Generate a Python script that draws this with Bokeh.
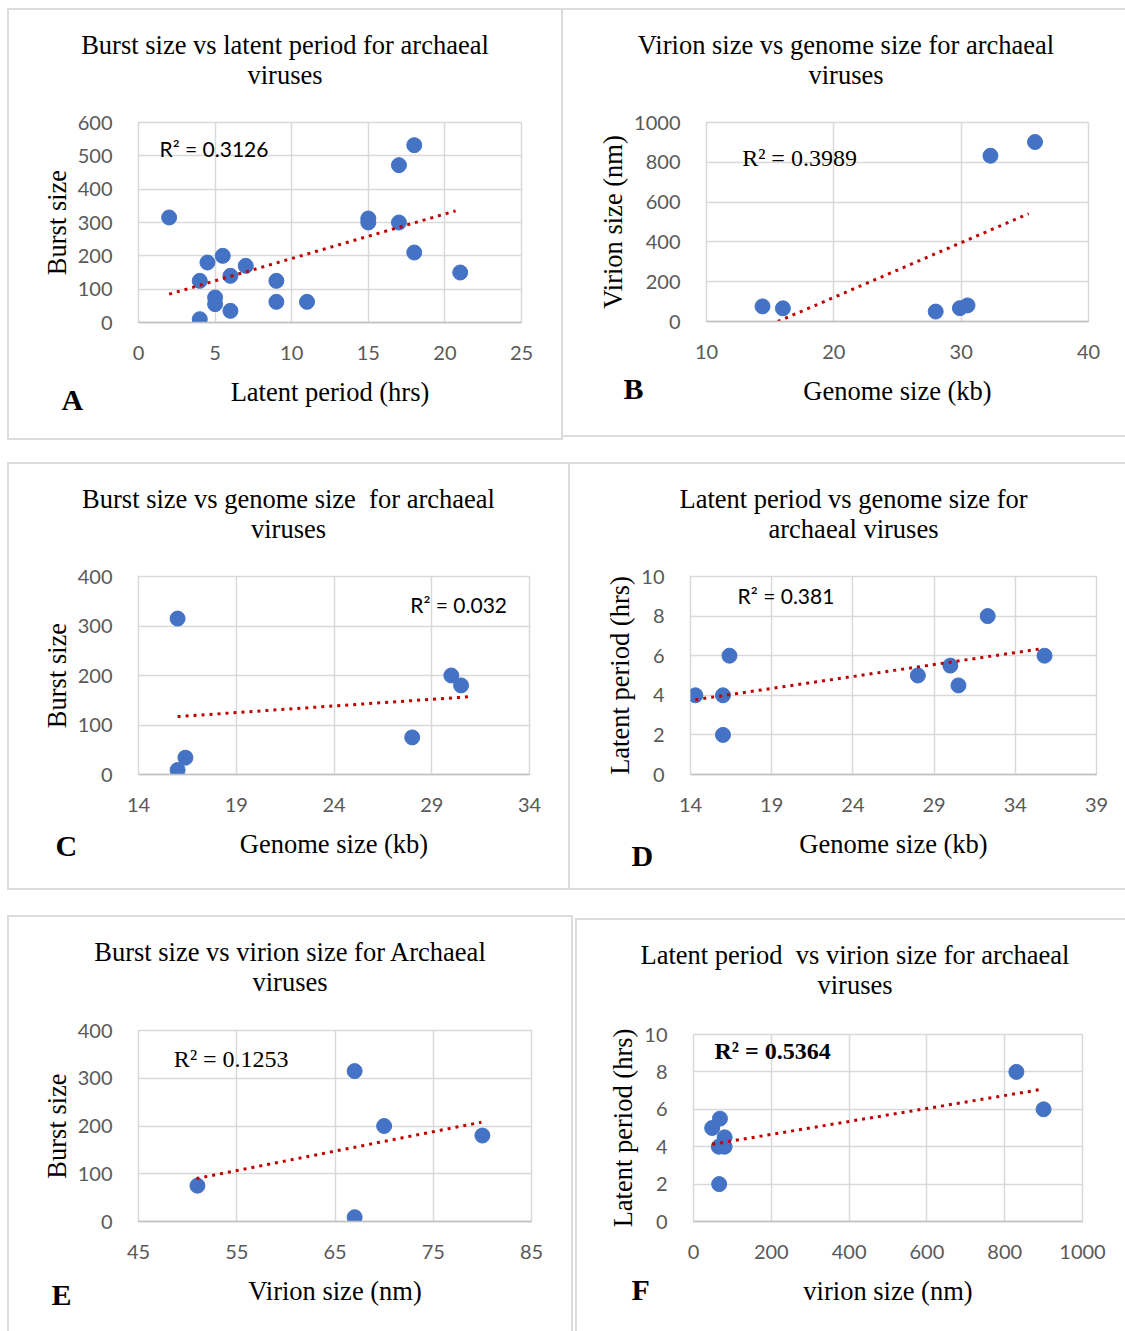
from bokeh.plotting import figure
from bokeh.models import Label, FixedTicker, Range1d, Title, Div
from bokeh.layouts import column, row
from bokeh.embed import file_html
from bokeh.resources import INLINE

# ---------------- data ----------------
# A: burst size vs latent period
a_latent = [2, 4, 4, 4.5, 5, 5, 5.5, 6, 6, 7, 9, 9, 11, 15, 15, 17, 17, 18, 18, 21]
a_burst = [315, 125, 10, 180, 75, 55, 200, 140, 35, 170, 125, 62, 62, 312, 300, 472, 300, 532, 210, 150]
a_trend_x = [2.0, 20.7]
a_trend_y = [85, 335]

# B: virion size vs genome size
b_genome = [14.4, 16.0, 28.0, 29.9, 30.5, 32.3, 35.8]
b_virion = [76, 66, 50, 67, 81, 833, 902]
b_trend_x = [15.6, 35.3]
b_trend_y = [0, 542]

# C: burst size vs genome size
c_genome = [16.0, 16.0, 16.4, 28.0, 30.0, 30.5]
c_burst = [315, 9, 34, 75, 200, 180]
c_trend_x = [16.0, 30.9]
c_trend_y = [117, 157]

# D: latent period vs genome size
d_genome = [14.3, 16.0, 16.0, 16.4, 28.0, 30.0, 30.5, 32.3, 35.8]
d_latent = [4, 4, 2, 6, 5, 5.5, 4.5, 8, 6]
d_trend_x = [14.3, 35.6]
d_trend_y = [3.78, 6.35]

# E: burst size vs virion size
e_virion = [51, 67, 67, 70, 80]
e_burst = [75, 315, 9, 200, 180]
e_trend_x = [50.9, 79.9]
e_trend_y = [90, 208]

# F: latent period vs virion size
f_virion = [48, 68, 66, 80, 65, 80, 830, 900]
f_latent = [5.0, 5.5, 2.0, 4.5, 4.0, 4.0, 8.0, 6.0]
f_trend_x = [48, 896]
f_trend_y = [4.13, 7.07]

# ---------------- styling ----------------
BLUE = "#4472c4"
RED = "#c00000"
GRID = "#d9d9d9"
TICK = "#595959"
SERIF = "Liberation Serif"
SANS = "Lato"
TITLE_H = 88


def panel(box, borders, frame, xs, ys, tx, ty, xr, yr, xticks, yticks, xlabel, ylabel,
          title_lines, title_shift, r2_text, r2_xy, r2_font, r2_bold,
          letter, letter_xy, margin):
    pl, pt, W, H = box
    bt, br, bb, bl = borders
    fl, fr, ft, fb = frame
    iw = W - bl - br
    ih = H - bt - bb
    p = figure(width=iw, height=ih - TITLE_H, output_backend="svg", toolbar_location=None,
               x_range=Range1d(*xr), y_range=Range1d(*yr),
               min_border_left=fl - pl - bl, min_border_right=pl + W - fr - br,
               min_border_top=ft - pt - bt - TITLE_H, min_border_bottom=pt + H - fb - bb,
               margin=0, border_fill_color="white", background_fill_color="white")

    p.xaxis.ticker = FixedTicker(ticks=xticks)
    p.yaxis.ticker = FixedTicker(ticks=yticks)
    p.axis.major_tick_line_color = None
    p.axis.minor_tick_line_color = None
    p.xaxis.axis_line_color = "#bfbfbf"
    p.xaxis.axis_line_width = 1.5
    p.yaxis.axis_line_color = None
    p.grid.grid_line_color = GRID
    p.grid.grid_line_width = 1.5
    p.outline_line_color = GRID
    p.outline_line_width = 1.5
    p.axis.major_label_text_font = SANS
    p.axis.major_label_text_font_size = "20px"
    p.axis.major_label_text_color = TICK
    p.axis.axis_label_text_font = SERIF
    p.axis.axis_label_text_font_size = "26.5px"
    p.axis.axis_label_text_font_style = "normal"
    p.axis.axis_label_text_color = "black"
    p.xaxis.major_label_standoff = 17
    p.yaxis.major_label_standoff = 20
    p.xaxis.axis_label_standoff = 14
    p.yaxis.axis_label_standoff = 3
    p.xaxis.axis_label = xlabel
    p.yaxis.axis_label = ylabel

    p.scatter(xs, ys, size=15, marker="circle", fill_color=BLUE, line_color=BLUE)
    p.line(tx, ty, line_color=RED, line_width=3, line_dash="3 5")

    p.add_layout(Label(x=r2_xy[0], y=r2_xy[1], text=r2_text, text_font=r2_font,
                       text_font_size="21px" if r2_font == SANS else "24px",
                       text_font_style="bold" if r2_bold else "normal",
                       text_color="black", text_align="left", text_baseline="middle"))

    # panel letter, placed in the panel below the x axis
    lx, ly = letter_xy
    standoff = 2 * (ly - 20 - (fb + 85))
    p.add_layout(Title(text=letter, align="left", offset=lx - fl, vertical_align="top",
                       standoff=standoff, text_font=SERIF, text_font_size="30px",
                       text_font_style="bold", text_color="black"), "below")

    # title centred on the whole panel (panel centre, not frame centre)
    pad_l = max(title_shift, 0) * 2 + (br - bl if br > bl else 0)
    pad_r = max(-title_shift, 0) * 2 + (bl - br if bl > br else 0)
    html = ('<div style="display:block;box-sizing:border-box;'
            f'width:{iw}px;height:{TITLE_H}px;margin:0;'
            'font-family:\'Liberation Serif\',serif;font-size:26.5px;'
            'line-height:30px;text-align:center;color:black;'
            f'padding-top:{22 - bt}px;padding-left:{pad_l}px;padding-right:{pad_r}px;'
            'white-space:pre;background:white;">' + "<br>".join(title_lines) + '</div>')
    d = Div(text=html, width=iw, height=TITLE_H, margin=0,
            styles={"background-color": "white"})
    inner = column(d, p, width=iw, height=ih, margin=(bt, br, bb, bl), spacing=0,
                   styles={"background-color": "white"})
    return column(inner, width=W, height=H, margin=margin, spacing=0,
                  styles={"background-color": "#dcdcdc"})


pA = panel((7, 8, 556, 432), (2, 2, 2, 2), (138, 521, 122, 322), a_latent, a_burst, a_trend_x, a_trend_y,
           (0, 25), (0, 600), [0, 5, 10, 15, 20, 25], [0, 100, 200, 300, 400, 500, 600],
           "Latent period (hrs)", "Burst size",
           ["Burst size vs latent period for archaeal", "viruses"], 0,
           "R² = 0.3126", (1.37, 522), SANS, False, "A", (61, 400), (8, 0, 0, 7))

pB = panel((563, 8, 562, 429), (2, 0, 2, 0), (706, 1088, 122, 321), b_genome, b_virion, b_trend_x, b_trend_y,
           (10, 40), (0, 1000), [10, 20, 30, 40], [0, 200, 400, 600, 800, 1000],
           "Genome size (kb)", "Virion size (nm)",
           ["Virion size vs genome size for archaeal", "viruses"], 2,
           "R² = 0.3989", (12.8, 824), SERIF, False, "B", (623, 389), (8, 0, 0, 0))

pC = panel((7, 462, 563, 428), (2, 2, 2, 2), (138, 529, 576, 774), c_genome, c_burst, c_trend_x, c_trend_y,
           (14, 34), (0, 400), [14, 19, 24, 29, 34], [0, 100, 200, 300, 400],
           "Genome size (kb)", "Burst size",
           ["Burst size vs genome size  for archaeal", "viruses"], 0,
           "R² = 0.032", (27.9, 343), SANS, False, "C", (55, 846), (22, 0, 0, 7))

pD = panel((570, 462, 555, 428), (2, 0, 2, 0), (690, 1096, 576, 774), d_genome, d_latent, d_trend_x, d_trend_y,
           (14, 39), (0, 10), [14, 19, 24, 29, 34, 39], [0, 2, 4, 6, 8, 10],
           "Genome size (kb)", "Latent period (hrs)",
           ["Latent period vs genome size for", "archaeal viruses"], 6,
           "R² = 0.381", (16.9, 9.04), SANS, False, "D", (631, 856), (22, 0, 0, 0))

pE = panel((7, 915, 566, 416), (2, 2, 0, 2), (138, 531, 1030, 1221), e_virion, e_burst, e_trend_x, e_trend_y,
           (45, 85), (0, 400), [45, 55, 65, 75, 85], [0, 100, 200, 300, 400],
           "Virion size (nm)", "Burst size",
           ["Burst size vs virion size for Archaeal", "viruses"], 0,
           "R² = 0.1253", (48.6, 341), SERIF, False, "E", (51, 1295), (25, 0, 0, 7))

pF = panel((575, 918, 550, 413), (2, 0, 0, 2), (693, 1082, 1034, 1221), f_virion, f_latent, f_trend_x, f_trend_y,
           (0, 1000), (0, 10), [0, 200, 400, 600, 800, 1000], [0, 2, 4, 6, 8, 10],
           "virion size (nm)", "Latent period (hrs)",
           ["Latent period  vs virion size for archaeal", "viruses"], 5,
           "R² = 0.5364", (54, 9.14), SERIF, True, "F", (631, 1290), (28, 0, 0, 2))

layout = column(row(pA, pB), row(pC, pD), row(pE, pF))
open("out.html", "w").write(file_html(layout, INLINE))
